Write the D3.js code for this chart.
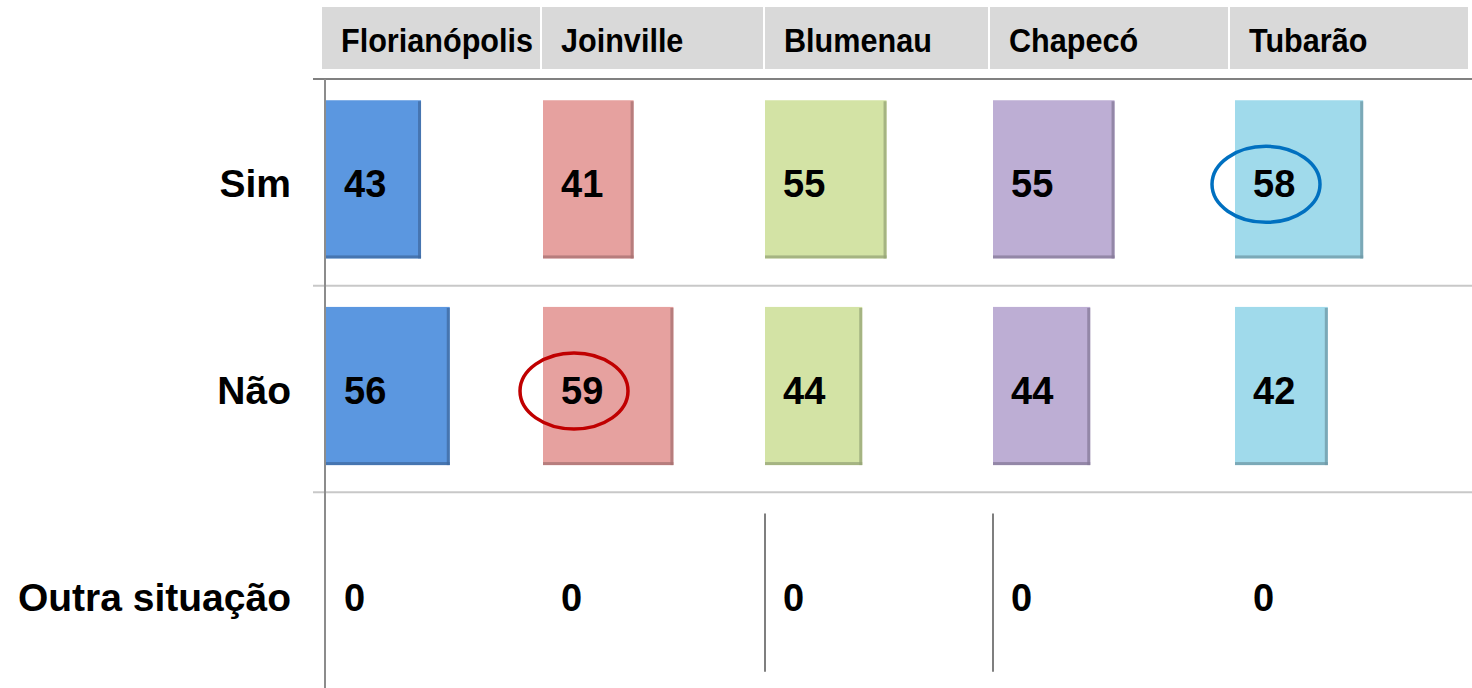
<!DOCTYPE html>
<html>
<head>
<meta charset="utf-8">
<script src="https://cdn.jsdelivr.net/npm/d3@7"></script>
<style>
  html, body { margin: 0; padding: 0; background: #fff; }
  svg { display: block; font-family: "Liberation Sans", Arial, sans-serif; font-weight: bold; }
</style>
</head>
<body>
<div id="chart"></div>
<script>
// cities (columns) and answers (rows)
const cities = ['Florianópolis', 'Joinville', 'Blumenau', 'Chapecó', 'Tubarão'];
const answers = ['Sim', 'Não', 'Outra situação'];

// percentages per city, one array per answer
const sim = [43, 41, 55, 55, 58];
const nao = [56, 59, 44, 44, 42];
const outra = [0, 0, 0, 0, 0];

const cityColors = ['#5b97e0', '#e6a19f', '#d3e3a5', '#bdaed4', '#a0daeb'];
const cityEdges = ['#3f6aa0', '#a77272', '#96a477', '#857a98', '#6f98a5'];

// zero bars that still show their outline in the original
const outlinedZero = ['Blumenau', 'Chapecó'];

// highlighted values: [city, answer, colour]
const highlights = [
    ['Joinville', 'Não', '#c00000'],
    ['Tubarão', 'Sim', '#0070c0']
];

function createTableChart() {
    const width = 1472, height = 688;
    const values = { 'Sim': sim, 'Não': nao, 'Outra situação': outra };

    const svg = d3.select('#chart')
    .append('svg')
    .attr('width', width)
    .attr('height', height);

    // header cells
    const colX = d3.scaleOrdinal()
    .domain(cities)
    .range([322, 542, 765, 990, 1230]);

    const colW = d3.scaleOrdinal()
    .domain(cities)
    .range([218, 221, 223, 238, 238]);

    // where each city's bars start
    const barX = d3.scaleOrdinal()
    .domain(cities)
    .range([326, 543, 765, 993, 1235]);

    const rowY = d3.scaleBand()
    .domain(answers)
    .range([80, 700])
    .paddingInner(0.225)
    .paddingOuter(0.1125);

    const rowStep = rowY.step();
    const rowTop = d => rowY(d) - rowY.paddingOuter() * rowStep;
    const rowMid = d => rowY(d) + rowY.bandwidth() / 2;

    const xVal = d3.scaleLinear()
    .domain([0, 100])
    .range([0, 221]);

    const headOffset = 19, labelOffset = 18, barShift = -3;

    // header cells
    const head = svg.append('g').attr('class', 'header');
    head.selectAll('rect')
    .data(cities)
    .enter()
    .append('rect')
    .attr('x', d => colX(d))
    .attr('y', 7)
    .attr('width', d => colW(d))
    .attr('height', 62)
    .attr('fill', '#d9d9d9');

    head.selectAll('text')
    .data(cities)
    .enter()
    .append('text')
    .attr('transform', d => `translate(${colX(d) + headOffset},52) scale(0.9,1)`)
    .attr('font-size', 34)
    .attr('fill', '#000')
    .text(d => d);

    // grid lines
    svg.append('line')
    .attr('x1', 313).attr('x2', width)
    .attr('y1', 79).attr('y2', 79)
    .attr('stroke', '#808080')
    .attr('stroke-width', 2);

    svg.selectAll('line.sep')
    .data(answers.slice(1))
    .enter()
    .append('line')
    .attr('class', 'sep')
    .attr('x1', 313).attr('x2', width)
    .attr('y1', d => rowTop(d) - 1).attr('y2', d => rowTop(d) - 1)
    .attr('stroke', '#c8c8c8')
    .attr('stroke-width', 2);

    // row labels
    svg.selectAll('text.row')
    .data(answers)
    .enter()
    .append('text')
    .attr('class', 'row')
    .attr('x', 291)
    .attr('y', d => rowMid(d) + 14)
    .attr('text-anchor', 'end')
    .attr('font-size', 39)
    .text(d => d);

    // bars
    const cells = [];
    answers.forEach(a => {
        cities.forEach((c, i) => {
            cells.push({ answer: a, city: c, i: i, value: values[a][i] });
        });
    });

    const bars = svg.append('g').attr('class', 'bars');
    const filled = cells.filter(d => d.value > 0);
    const barH = rowY.bandwidth() - 2;

    bars.selectAll('rect.bar')
    .data(filled)
    .enter()
    .append('rect')
    .attr('class', 'bar')
    .attr('x', d => barX(d.city))
    .attr('y', d => rowY(d.answer) + barShift)
    .attr('width', d => xVal(d.value))
    .attr('height', barH)
    .attr('fill', d => cityColors[d.i]);

    // darker bevel on right and bottom edges
    bars.selectAll('rect.edgeR')
    .data(filled)
    .enter()
    .append('rect')
    .attr('class', 'edgeR')
    .attr('x', d => barX(d.city) + xVal(d.value) - 3)
    .attr('y', d => rowY(d.answer) + barShift + 1)
    .attr('width', 3)
    .attr('height', barH - 1)
    .attr('fill', d => cityEdges[d.i])
    .attr('opacity', 0.75);

    bars.selectAll('rect.edgeB')
    .data(filled)
    .enter()
    .append('rect')
    .attr('class', 'edgeB')
    .attr('x', d => barX(d.city))
    .attr('y', d => rowY(d.answer) + barShift + barH - 3)
    .attr('width', d => xVal(d.value))
    .attr('height', 3)
    .attr('fill', d => cityEdges[d.i])
    .attr('opacity', 0.75);

    // zero-value bars drawn as a thin outline
    bars.selectAll('line.zero')
    .data(cells.filter(d => d.value === 0 && outlinedZero.includes(d.city)))
    .enter()
    .append('line')
    .attr('class', 'zero')
    .attr('x1', d => barX(d.city) + xVal(d.value))
    .attr('x2', d => barX(d.city) + xVal(d.value))
    .attr('y1', d => rowY(d.answer) + barShift)
    .attr('y2', d => rowY(d.answer) + barShift + barH)
    .attr('stroke', '#7f7f7f')
    .attr('stroke-width', 2);

    // value axis line
    svg.append('line')
    .attr('x1', 325).attr('x2', 325)
    .attr('y1', 79).attr('y2', height)
    .attr('stroke', '#8c8c8c')
    .attr('stroke-width', 2);

    // value labels
    svg.selectAll('text.val')
    .data(cells)
    .enter()
    .append('text')
    .attr('class', 'val')
    .attr('x', d => barX(d.city) + labelOffset)
    .attr('y', d => rowMid(d.answer) + 14)
    .attr('font-size', 38)
    .attr('fill', '#000')
    .text(d => d.value);

    // highlight ellipses
    svg.selectAll('ellipse')
    .data(highlights)
    .enter()
    .append('ellipse')
    .attr('cx', d => barX(d[0]) + labelOffset + 13)
    .attr('cy', d => rowMid(d[1]) + 1)
    .attr('rx', 54)
    .attr('ry', 38)
    .attr('fill', 'none')
    .attr('stroke', d => d[2])
    .attr('stroke-width', 3.5);
}

createTableChart();
</script>
</body>
</html>
